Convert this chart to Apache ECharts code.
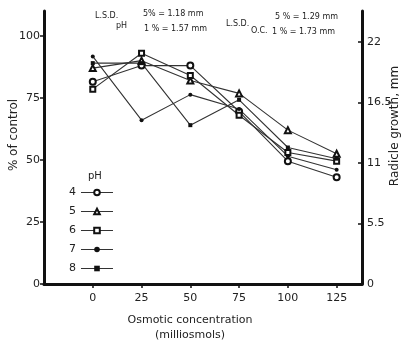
<!DOCTYPE html>
<html>
<head>
<meta charset="utf-8">
<script src="https://cdn.jsdelivr.net/npm/echarts@6/dist/echarts.min.js"></script>
<style>
  html, body { margin: 0; padding: 0; background: #fff; }
  #main { width: 407px; height: 340px; }
</style>
</head>
<body>
<div id="main"></div>
<script>
// osmotic concentration (milliosmols)
var conc = [0, 25, 50, 75, 100, 125];
// % of control, one array per pH
var ph4 = [81.5, 88, 88, 69.5, 49.5, 43];
var ph5 = [87, 90, 82, 76.8, 62, 52.5];
var ph6 = [78.5, 93, 84, 68, 53, 49.5];
var ph7 = [91.7, 66, 76.3, 70.5, 51.5, 46];
var ph8 = [89, 89, 64, 74.2, 55, 50.5];

var leftTicks = [0, 25, 50, 75, 100];
var rightTicks = [0, 5.5, 11, 16.5, 22];
var xTicks = [0, 25, 50, 75, 100, 125];

var myChart = echarts.init(document.getElementById('main'));

function pairs(arr) {
  var out = [];
  for (var i = 0; i < conc.length; i++) out.push([conc[i], arr[i]]);
  return out;
}

function mkSeries(name, data, symbol, size) {
  return {
    name: name,
    type: 'line',
    data: pairs(data),
    symbol: symbol,
    symbolSize: size,
    lineStyle: { color: '#333', width: 1.1 },
    itemStyle: { color: '#111', borderWidth: 1 },
    z: 3
  };
}

var txt = { fontFamily: 'DejaVu Sans', fill: '#222' };

var option = {
  backgroundColor: '#fff',
  animation: false,
  textStyle: { fontFamily: 'DejaVu Sans' },
  grid: { left: 44, right: 45, top: 11, bottom: 56 },
  legend: {
    orient: 'vertical',
    left: 64,
    top: 182,
    align: 'right',
    itemWidth: 32,
    itemHeight: 7,
    itemGap: 8,
    lineStyle: { width: 1 },
    textStyle: { fontSize: 11, color: '#222', fontFamily: 'DejaVu Sans' },
    data: ['4', '5', '6', '7', '8']
  },
  xAxis: {
    type: 'value',
    min: -25,
    max: 138,
    splitLine: { show: false },
    axisLine: { onZero: false, lineStyle: { color: '#111', width: 3 } },
    axisTick: { show: true, length: 4, customValues: xTicks, lineStyle: { color: '#111', width: 1.5 } },
    axisLabel: { customValues: xTicks, fontSize: 11, color: '#222', margin: 9 }
  },
  yAxis: [
    {
      type: 'value',
      position: 'left',
      min: 0,
      max: 110,
      splitLine: { show: false },
      axisLine: { show: true, onZero: false, lineStyle: { color: '#111', width: 3 } },
      axisTick: { show: true, length: 4, customValues: leftTicks, lineStyle: { color: '#111', width: 1.5 } },
      axisLabel: { customValues: leftTicks, fontSize: 11, color: '#222', margin: 4 }
    },
    {
      type: 'value',
      position: 'right',
      min: 0,
      max: 24.8,
      splitLine: { show: false },
      axisLine: { show: true, onZero: false, lineStyle: { color: '#111', width: 3 } },
      axisTick: { show: true, inside: true, length: 4, customValues: rightTicks, lineStyle: { color: '#111', width: 1.5 } },
      axisLabel: { customValues: rightTicks, fontSize: 11, color: '#222', margin: 5 }
    }
  ],
  series: [
    mkSeries('4', ph4, 'emptyCircle', 6),
    mkSeries('5', ph5, 'emptyTriangle', 6),
    mkSeries('6', ph6, 'emptyRect', 5),
    mkSeries('7', ph7, 'circle', 4),
    mkSeries('8', ph8, 'rect', 4)
  ],
  graphic: [
    { type: 'text', left: 88, top: 171, style: Object.assign({ text: 'pH', fontSize: 10 }, txt) },
    { type: 'text', x: 14, y: 135, rotation: Math.PI / 2,
      style: Object.assign({ text: '% of control', fontSize: 12, align: 'center', verticalAlign: 'middle' }, txt) },
    { type: 'text', x: 395, y: 126, rotation: Math.PI / 2,
      style: Object.assign({ text: 'Radicle growth, mm', fontSize: 12, align: 'center', verticalAlign: 'middle' }, txt) },
    { type: 'text', x: 190, y: 320,
      style: Object.assign({ text: 'Osmotic concentration', fontSize: 11, align: 'center', verticalAlign: 'middle' }, txt) },
    { type: 'text', x: 190, y: 335,
      style: Object.assign({ text: '(milliosmols)', fontSize: 11, align: 'center', verticalAlign: 'middle' }, txt) },
    { type: 'text', x: 95, y: 16, style: Object.assign({ text: 'L.S.D.', fontSize: 8, verticalAlign: 'middle' }, txt) },
    { type: 'text', x: 116, y: 26, style: Object.assign({ text: 'pH', fontSize: 8, verticalAlign: 'middle' }, txt) },
    { type: 'text', x: 143, y: 14, style: Object.assign({ text: '5% = 1.18 mm', fontSize: 8, verticalAlign: 'middle' }, txt) },
    { type: 'text', x: 144, y: 29, style: Object.assign({ text: '1 % = 1.57 mm', fontSize: 8, verticalAlign: 'middle' }, txt) },
    { type: 'text', x: 226, y: 24, style: Object.assign({ text: 'L.S.D.', fontSize: 8, verticalAlign: 'middle' }, txt) },
    { type: 'text', x: 251, y: 31, style: Object.assign({ text: 'O.C.', fontSize: 8, verticalAlign: 'middle' }, txt) },
    { type: 'text', x: 275, y: 17, style: Object.assign({ text: '5 % = 1.29 mm', fontSize: 8, verticalAlign: 'middle' }, txt) },
    { type: 'text', x: 272, y: 32, style: Object.assign({ text: '1 % = 1.73 mm', fontSize: 8, verticalAlign: 'middle' }, txt) }
  ]
};

myChart.setOption(option);
</script>
</body>
</html>
